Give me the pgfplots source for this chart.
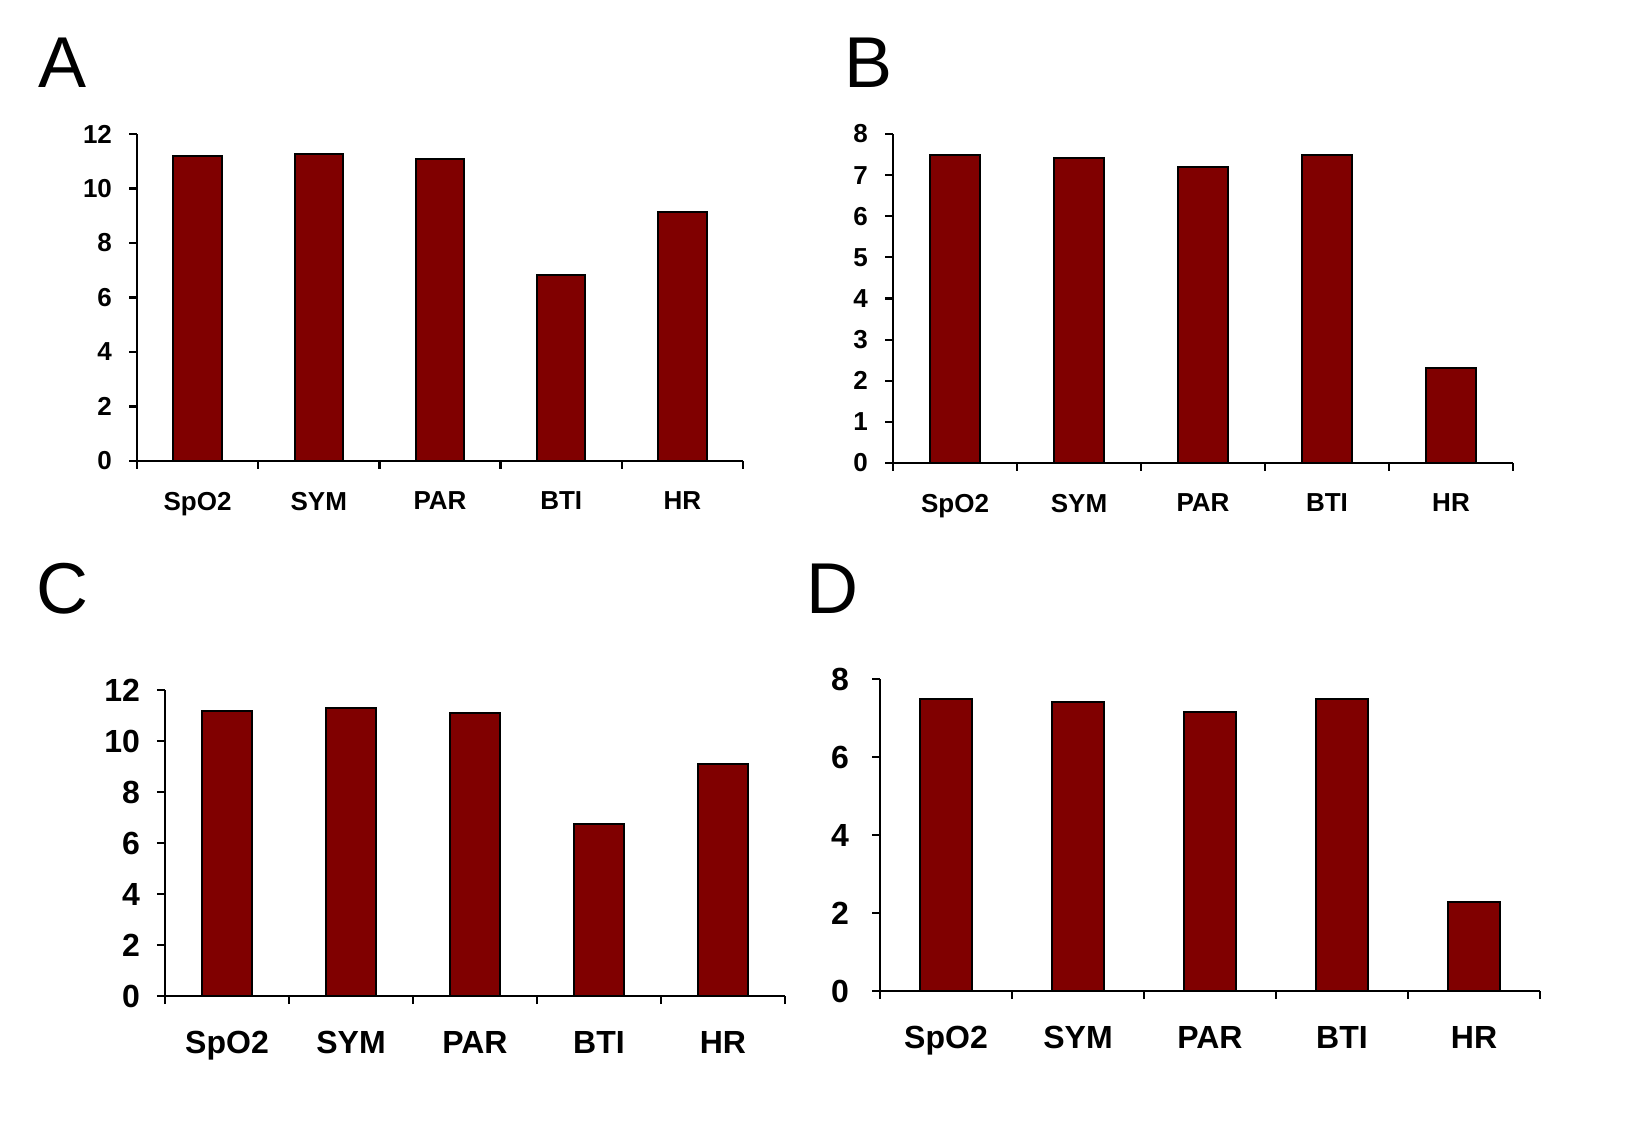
\documentclass[border=0pt]{standalone}
\usepackage{fontspec}
\setmainfont{Liberation Sans}
\usepackage{pgfplots}
\pgfplotsset{compat=1.18}
\definecolor{barred}{HTML}{800000}

\pgfplotsset{
  panel/.style={
    scale only axis,
    axis lines=left,
    axis line style={-, line width=1.3pt},
    every tick/.style={black, line width=1.1pt},
    tick align=outside,
    major tick length=4pt,
    xmin=0.5, xmax=5.5, ymin=0,
    xtick={0.5,1.5,2.5,3.5,4.5,5.5},
    x tick label as interval,
    xticklabels={SpO2,SYM,PAR,BTI,HR},
    /pgf/number format/assume math mode=true,
    ybar, bar width=0.4,
    clip=false,
  },
  small/.style={
    tick label style={font=\bfseries\fontsize{13}{15}\selectfont},
    xticklabel style={yshift=-8pt},
    yticklabel style={xshift=-5pt},
  },
  big/.style={
    tick label style={font=\bfseries\fontsize{16}{18}\selectfont},
    xticklabel style={yshift=-10pt},
    yticklabel style={xshift=-5pt},
  },
  bars/.style={draw=black, line width=1pt, fill=barred},
}

\begin{document}
\begin{tikzpicture}
\useasboundingbox (0,0) rectangle (821.5pt,568pt);

% A
\begin{axis}[panel, small, at={(68.5pt,337.5pt)}, anchor=south west,
  width=303pt, height=163.5pt, ymax=12, ytick={0,2,...,12}]
\addplot[bars] coordinates {(1,11.18) (2,11.26) (3,11.10) (4,6.82) (5,9.12)};
\end{axis}

% B
\begin{axis}[panel, small, at={(446.5pt,336.5pt)}, anchor=south west,
  width=310pt, height=164.5pt, ymax=8, ytick={0,1,...,8}]
\addplot[bars] coordinates {(1,7.50) (2,7.41) (3,7.19) (4,7.50) (5,2.30)};
\end{axis}

% C
\begin{axis}[panel, big, at={(82.5pt,70pt)}, anchor=south west,
  width=310pt, height=153pt, ymax=12, ytick={0,2,...,12}]
\addplot[bars] coordinates {(1,11.19) (2,11.31) (3,11.08) (4,6.75) (5,9.09)};
\end{axis}

% D
\begin{axis}[panel, big, yticklabel style={xshift=-3pt}, at={(440pt,72.5pt)}, anchor=south west,
  width=330pt, height=156pt, ymax=8, ytick={0,2,...,8}]
\addplot[bars] coordinates {(1,7.48) (2,7.40) (3,7.16) (4,7.48) (5,2.28)};
\end{axis}

\node[anchor=base west, inner sep=0pt, font=\fontsize{36}{40}\selectfont] at (19pt,524pt) {A};
\node[anchor=base west, inner sep=0pt, font=\fontsize{36}{40}\selectfont] at (422pt,524pt) {B};
\node[anchor=base west, inner sep=0pt, font=\fontsize{36}{40}\selectfont] at (18pt,261pt) {C};
\node[anchor=base west, inner sep=0pt, font=\fontsize{36}{40}\selectfont] at (403pt,261pt) {D};
\end{tikzpicture}
\end{document}
